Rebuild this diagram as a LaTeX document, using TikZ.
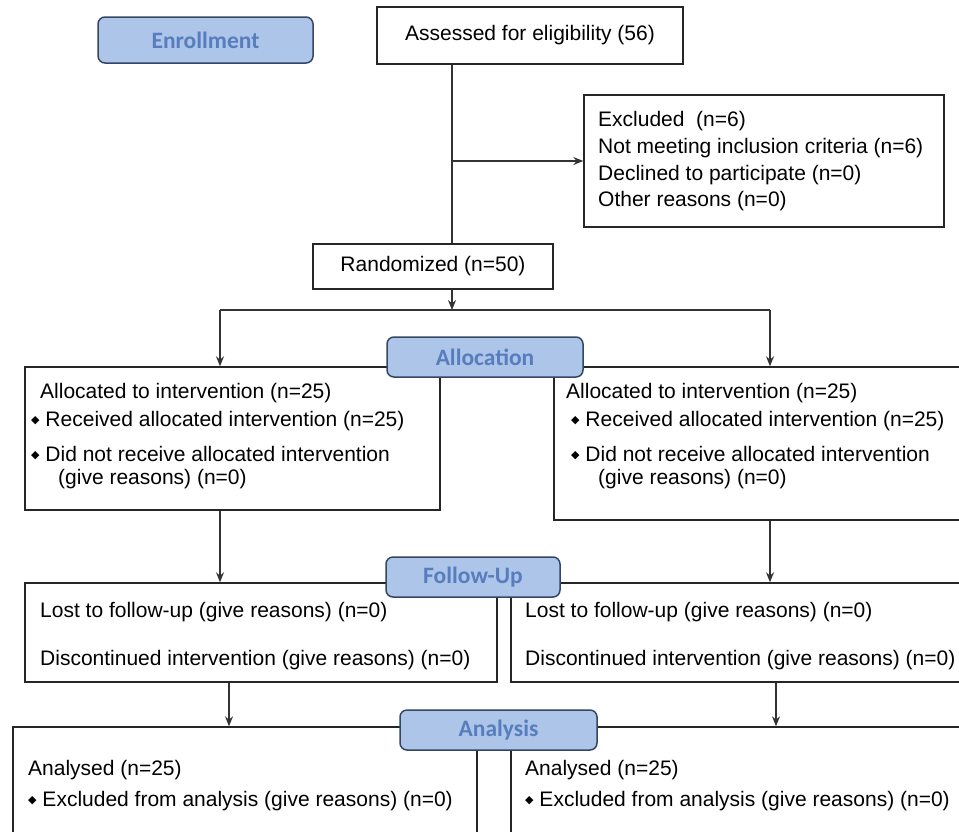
\documentclass[tikz,border=0pt]{standalone}
\usepackage{fontspec}
\setmainfont{Liberation Sans}
\newfontfamily\labelfont{Carlito}
\newfontfamily\symfont{DejaVu Sans}
\usetikzlibrary{arrows, arrows.meta, positioning}
\definecolor{labelblue}{RGB}{172, 197, 232}
\definecolor{labelline}{RGB}{52, 70, 100}
\definecolor{labeltext}{RGB}{88, 125, 190}
\newcommand{\dia}{\raisebox{3pt}{\symfont\fontsize{11}{11}\selectfont ◆}}

\begin{document}
\begin{tikzpicture}[x=1pt, y=-1pt]
    \tikzstyle{box} = [rectangle, draw=black!85, line width=1.4pt, fill=white, inner sep=0pt, font=\fontsize{21}{24}\selectfont]
    \tikzstyle{stage} = [rectangle, rounded corners=7pt, draw=labelline, line width=1.5pt, fill=labelblue, inner sep=0pt, font=\labelfont\bfseries\fontsize{23.5}{26}\selectfont, text=labeltext]
    \tikzstyle{txt} = [anchor=west, inner sep=0pt, font=\fontsize{21}{24}\selectfont]
    \tikzstyle{line} = [line width=1.2pt, black!80]
    \tikzstyle{arrow} = [line width=1.2pt, black!80, ->, >={Stealth[length=10pt, width=8pt]}]

    \clip (0,0) rectangle (959,831);

    \node[box, minimum width=306pt, minimum height=57pt] (assess) at (530,35.5) {Assessed for eligibility (56)};
    \node[box, minimum width=360pt, minimum height=132pt] (excl) at (764,161) {};
    \node[box, minimum width=240pt, minimum height=45pt] (rand) at (433,266.5) {Randomized (n=50)};
    \node[box, minimum width=415pt, minimum height=143pt] (allocL) at (232.5,438.5) {};
    \node[box, minimum width=421pt, minimum height=153pt] (allocR) at (764.5,443.5) {};
    \node[box, minimum width=472pt, minimum height=99pt] (fupL) at (261,632.5) {};
    \node[box, minimum width=464pt, minimum height=99pt] (fupR) at (743,632.5) {};
    \node[box, minimum width=464pt, minimum height=133pt] (anaL) at (245,793.5) {};
    \node[box, minimum width=464pt, minimum height=133pt] (anaR) at (743,793.5) {};

    \node[txt] (excl1) at (598,121) {Excluded~ (n=6)};
    \node[txt] (excl2) at (598,148) {Not meeting inclusion criteria (n=6)};
    \node[txt] (excl3) at (598,175) {Declined to participate (n=0)};
    \node[txt] (excl4) at (598,201) {Other reasons (n=0)};

    \node[txt] (allocL1) at (40,393) {Allocated to intervention (n=25)};
    \node[txt] (allocL2) at (31,421) {\dia\ Received allocated intervention (n=25)};
    \node[txt] (allocL3) at (31,454) {\dia\ Did not receive allocated intervention};
    \node[txt] (allocL4) at (58,479) {(give reasons) (n=0)};
    \node[txt] (allocR1) at (566,393) {Allocated to intervention (n=25)};
    \node[txt] (allocR2) at (571,421) {\dia\ Received allocated intervention (n=25)};
    \node[txt] (allocR3) at (571,454) {\dia\ Did not receive allocated intervention};
    \node[txt] (allocR4) at (598,479) {(give reasons) (n=0)};

    \node[txt] (fupL1) at (40,612) {Lost to follow-up (give reasons) (n=0)};
    \node[txt] (fupL2) at (40,660) {Discontinued intervention (give reasons) (n=0)};
    \node[txt] (fupR1) at (525,612) {Lost to follow-up (give reasons) (n=0)};
    \node[txt] (fupR2) at (525,660) {Discontinued intervention (give reasons) (n=0)};

    \node[txt] (anaL1) at (28,770) {Analysed (n=25)};
    \node[txt] (anaL2) at (28,801) {\dia\ Excluded from analysis (give reasons) (n=0)};
    \node[txt] (anaR1) at (525,770) {Analysed (n=25)};
    \node[txt] (anaR2) at (525,801) {\dia\ Excluded from analysis (give reasons) (n=0)};

    \node[stage, minimum width=215pt, minimum height=46pt] (enroll) at (205.5,40) {Enrollment};
    \node[stage, minimum width=196pt, minimum height=40pt] (alloc) at (485,357) {Allocation};
    \node[stage, minimum width=174pt, minimum height=40pt] (fup) at (473,577) {Follow-Up};
    \node[stage, minimum width=197pt, minimum height=40pt] (ana) at (498.5,730) {Analysis};

    \coordinate (trunk) at (452,310);
    \coordinate (colL) at (220,0);
    \coordinate (colR) at (770,0);
    \coordinate (colL2) at (229,0);
    \coordinate (colR2) at (776,0);

    \draw[line] (assess.south -| trunk) -- (rand.north -| trunk);
    \draw[arrow] (trunk |- excl.west) -- (excl.west);
    \draw[arrow] (rand.south -| trunk) -- (trunk);
    \draw[line] (trunk) -- (trunk -| colL);
    \draw[line] (trunk) -- (trunk -| colR);
    \draw[arrow] (trunk -| colL) -- (allocL.north -| colL);
    \draw[arrow] (trunk -| colR) -- (allocR.north -| colR);
    \draw[arrow] (allocL.south -| colL) -- (fupL.north -| colL);
    \draw[arrow] (allocR.south -| colR) -- (fupR.north -| colR);
    \draw[arrow] (fupL.south -| colL2) -- (anaL.north -| colL2);
    \draw[arrow] (fupR.south -| colR2) -- (anaR.north -| colR2);
\end{tikzpicture}
\end{document}
